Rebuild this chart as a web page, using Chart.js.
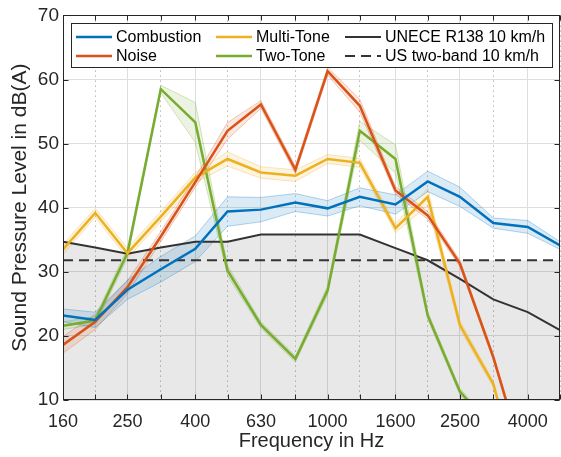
<!DOCTYPE html>
<html>
<head>
<meta charset="utf-8">
<script src="https://cdn.jsdelivr.net/npm/chart.js@4"></script>
<style>
  body { margin: 0; background: #fff; }
  canvas { display: block; }
</style>
</head>
<body>
<canvas id="chart" width="561" height="457"></canvas>
<script>
// 1/3-octave band centre frequencies (Hz)
const bands = [160, 200, 250, 315, 400, 500, 630, 800, 1000, 1250, 1600, 2000, 2500, 3150, 4000, 5000];
const labeledBands = [160, 250, 400, 630, 1000, 1600, 2500, 4000];

// mean levels in dB(A), and the half-width of the shaded band around each
const combustion       = [23.2, 22.5, 27.2, 30.4, 33.6, 39.4, 39.7, 40.8, 39.9, 41.7, 40.5, 44.1, 41.7, 37.6, 37.0, 34.1];
const combustionSpread = [1.0, 1.2, 1.5, 2.0, 2.0, 2.3, 1.9, 1.4, 1.2, 1.4, 1.5, 1.6, 1.5, 0.8, 1.0, 0.6];
const noise            = [18.6, 22.2, 27.6, 35.5, 44.0, 52.0, 56.1, 45.9, 61.3, 55.9, 42.7, 38.8, 31.3, 16.7, -1.5, null];
const noiseSpread      = [1.3, 1.2, 1.0, 0.8, 0.8, 1.3, 0.6, 0.6, 0.6, 1.0, 0.6, 0.6, 0.5, 0.5, 0.5, null];
const multiTone        = [33.5, 39.2, 32.9, 38.6, 44.7, 47.6, 45.5, 45.0, 47.6, 47.0, 36.8, 41.7, 21.7, 12.5, -7.0, null];
const multiToneSpread  = [0.8, 0.7, 0.8, 0.8, 0.8, 1.1, 0.9, 0.9, 0.7, 0.7, 0.7, 1.3, 0.7, 0.5, 0.5, null];
const twoTone          = [21.6, 22.4, 32.9, 58.5, 53.3, 30.2, 21.7, 16.4, 27.1, 52.0, 47.6, 23.2, 11.3, 5.5, null, null];
const twoToneSpread    = [0.6, 0.6, 0.8, 0.6, 3.1, 0.8, 0.5, 0.5, 0.7, 1.5, 2.2, 0.6, 0.5, 0.5, null, null];

// limit curves
const unece = [34.7, 33.8, 32.8, 33.8, 34.7, 34.7, 35.8, 35.8, 35.8, 35.8, 33.7, 31.8, 28.9, 25.7, 23.7, 20.9];
const usFreq = [160, 5000];
const usTwoBand = [31.8, 31.8];

const FONT = "'Liberation Sans', Arial, Helvetica, sans-serif";
const TEXT = "#262626";

function pts(vals) {
  return bands.map((f, i) => ({ x: f, y: vals[i] }));
}

function bandPts(vals, spread, sign) {
  return bands.map((f, i) => ({
    x: f,
    y: vals[i] == null || spread[i] == null ? null : vals[i] + sign * spread[i]
  }));
}

function rgba(rgb, a) {
  return `rgba(${rgb[0]},${rgb[1]},${rgb[2]},${a})`;
}

const series = [
  { label: "Combustion", data: combustion, spread: combustionSpread, rgb: [0, 114, 189] },
  { label: "Noise",      data: noise,      spread: noiseSpread,      rgb: [217, 83, 25] },
  { label: "Multi-Tone", data: multiTone,  spread: multiToneSpread,  rgb: [237, 177, 32] },
  { label: "Two-Tone",   data: twoTone,    spread: twoToneSpread,    rgb: [119, 172, 48] }
];

const datasets = [];

// grey region under the higher of the two limits
const usLevel = usTwoBand[0];
datasets.push({
  label: "limit area",
  data: pts(unece.map(v => Math.max(v, usLevel))),
  borderWidth: 0,
  pointRadius: 0,
  backgroundColor: "rgba(0,0,0,0.09)",
  fill: "start",
  order: 5
});

series.forEach(s => {
  datasets.push({
    label: s.label + " low",
    data: bandPts(s.data, s.spread, -1),
    borderColor: rgba(s.rgb, 0.3),
    borderWidth: 1,
    pointRadius: 0,
    fill: false,
    clip: 0,
    order: 3
  });
  datasets.push({
    label: s.label + " high",
    data: bandPts(s.data, s.spread, 1),
    borderColor: rgba(s.rgb, 0.3),
    borderWidth: 1,
    pointRadius: 0,
    backgroundColor: rgba(s.rgb, 0.14),
    fill: "-1",
    clip: 0,
    order: 3
  });
});

datasets.push({
  label: "UNECE R138 10 km/h",
  data: pts(unece),
  borderColor: "#333333",
  borderWidth: 2,
  pointRadius: 0,
  fill: false,
  clip: 0,
  order: 2
});
datasets.push({
  label: "US two-band 10 km/h",
  data: usFreq.map((f, i) => ({ x: f, y: usTwoBand[i] })),
  borderColor: "#333333",
  borderWidth: 2,
  borderDash: [10, 6],
  pointRadius: 0,
  fill: false,
  clip: 0,
  order: 2
});

series.forEach(s => {
  datasets.push({
    label: s.label,
    data: pts(s.data),
    borderColor: rgba(s.rgb, 1),
    borderWidth: 2.5,
    pointRadius: 0,
    fill: false,
    clip: 0,
    order: 1
  });
});

// box, inward tick marks on all four sides
const framePlugin = {
  id: "frame",
  afterDatasetsDraw(chart) {
    const { ctx, chartArea: a, scales } = chart;
    ctx.save();
    ctx.strokeStyle = TEXT;
    ctx.lineWidth = 1;
    const L = Math.round(a.left) + 0.5, R = Math.round(a.right) - 0.5;
    const T = Math.round(a.top) + 0.5, B = Math.round(a.bottom) - 0.5;
    ctx.strokeRect(L, T, R - L, B - T);
    ctx.beginPath();
    bands.forEach(f => {
      const px = Math.round(scales.x.getPixelForValue(f)) + 0.5;
      ctx.moveTo(px, B); ctx.lineTo(px, B - 5);
      ctx.moveTo(px, T); ctx.lineTo(px, T + 5);
    });
    for (let v = 10; v <= 70; v += 10) {
      const py = Math.round(scales.y.getPixelForValue(v)) + 0.5;
      ctx.moveTo(L, py); ctx.lineTo(L + 5, py);
      ctx.moveTo(R, py); ctx.lineTo(R - 5, py);
    }
    ctx.stroke();
    ctx.restore();
  }
};

// two-row legend box laid out in three columns
const legendItems = [
  { label: "Combustion",          color: "rgb(0,114,189)",  dash: [], col: 0, row: 0 },
  { label: "Noise",               color: "rgb(217,83,25)",  dash: [], col: 0, row: 1 },
  { label: "Multi-Tone",          color: "rgb(237,177,32)", dash: [], col: 1, row: 0 },
  { label: "Two-Tone",            color: "rgb(119,172,48)", dash: [], col: 1, row: 1 },
  { label: "UNECE R138 10 km/h",  color: "#333333",         dash: [], col: 2, row: 0 },
  { label: "US two-band 10 km/h", color: "#333333",         dash: [10, 6], col: 2, row: 1 }
];

const legendPlugin = {
  id: "boxLegend",
  afterDraw(chart) {
    const ctx = chart.ctx;
    const box = { x: 71.5, y: 23.5, w: 481, h: 44 };
    const colX = [76, 216, 345];
    const rowY = [37, 56];
    ctx.save();
    ctx.fillStyle = "#ffffff";
    ctx.fillRect(box.x, box.y, box.w, box.h);
    ctx.strokeStyle = TEXT;
    ctx.lineWidth = 1;
    ctx.strokeRect(box.x, box.y, box.w, box.h);
    ctx.font = "16px " + FONT;
    ctx.textBaseline = "middle";
    legendItems.forEach(it => {
      const x = colX[it.col], y = rowY[it.row];
      ctx.strokeStyle = it.color;
      ctx.lineWidth = it.color === "#333333" ? 2 : 2.5;
      ctx.setLineDash(it.dash);
      ctx.beginPath();
      ctx.moveTo(x, y);
      ctx.lineTo(x + 36, y);
      ctx.stroke();
      ctx.setLineDash([]);
      ctx.fillStyle = "#000000";
      ctx.fillText(it.label, x + 40, y + 1);
    });
    ctx.restore();
  }
};

const ctx = document.getElementById("chart").getContext("2d");

new Chart(ctx, {
  type: "line",
  data: { datasets },
  plugins: [framePlugin, legendPlugin],
  options: {
    responsive: false,
    animation: false,
    layout: { padding: { top: 14, right: 1, left: 0, bottom: 0 } },
    elements: { line: { tension: 0 }, point: { radius: 0 } },
    plugins: {
      legend: { display: false },
      tooltip: { enabled: false }
    },
    scales: {
      x: {
        type: "logarithmic",
        min: 160,
        max: 5000,
        afterBuildTicks: scale => {
          scale.ticks = bands.map(v => ({ value: v }));
        },
        afterFit: scale => {
          scale.height = 57;
          scale.paddingLeft = 0;
          scale.paddingRight = 0;
        },
        ticks: {
          autoSkip: false,
          maxRotation: 0,
          padding: 11,
          color: TEXT,
          font: { family: FONT, size: 18 },
          callback: v => labeledBands.includes(v) ? String(v) : ""
        },
        grid: {
          drawTicks: false,
          color: c => labeledBands.includes(c.tick && c.tick.value) ? "#dedede" : "#b8b8b8",
          lineWidth: 1
        },
        border: {
          display: false,
          dash: c => labeledBands.includes(c.tick && c.tick.value) ? [] : [1.5, 3.5]
        },
        title: {
          display: true,
          text: "Frequency in Hz",
          color: TEXT,
          font: { family: FONT, size: 20 },
          padding: { top: 0, bottom: 4 }
        }
      },
      y: {
        min: 10,
        max: 70,
        afterFit: scale => { scale.width = 63; },
        ticks: {
          stepSize: 10,
          padding: 4,
          color: TEXT,
          font: { family: FONT, size: 19 }
        },
        grid: {
          drawTicks: false,
          color: "#dedede",
          lineWidth: 1
        },
        border: { display: false },
        title: {
          display: true,
          text: "Sound Pressure Level in dB(A)",
          color: TEXT,
          font: { family: FONT, size: 21 },
          padding: { top: 8, bottom: 0 }
        }
      }
    }
  }
});
</script>
</body>
</html>
